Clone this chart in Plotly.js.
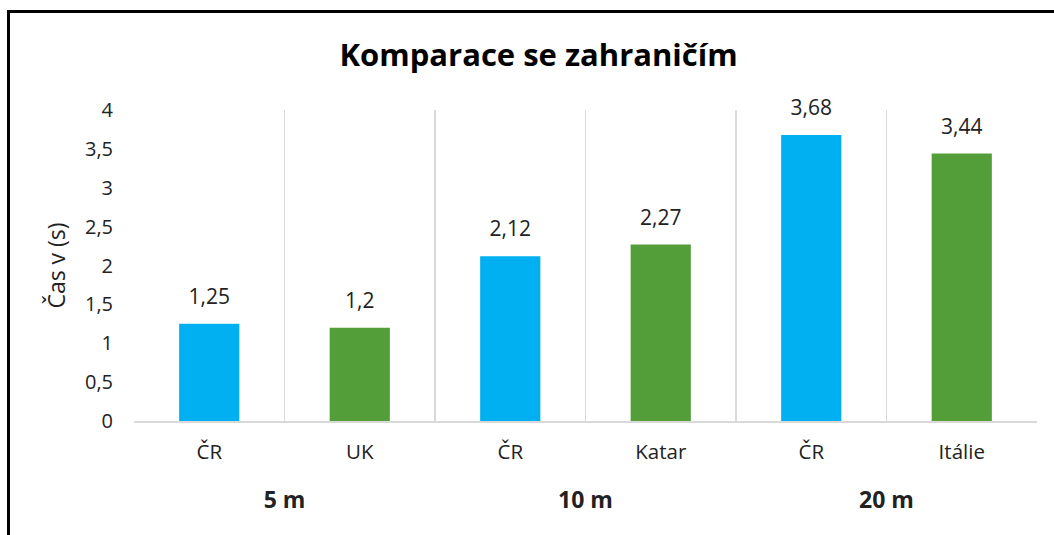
<!DOCTYPE html>
<html>
<head>
<meta charset="utf-8">
<script src="https://cdn.plot.ly/plotly-3.0.1.min.js"></script>
<style>
html, body { margin: 0; padding: 0; overflow: hidden; background: #fff; }
#wrap { position: relative; width: 1054px; height: 535px; overflow: hidden; }
#chart { width: 1054px; height: 535px; }
#frame { position: absolute; left: 7px; top: 10px; width: 1100px; height: 600px; border: 3px solid #000; pointer-events: none; }
</style>
</head>
<body>
<div id="wrap">
  <div id="chart"></div>
  <div id="frame"></div>
</div>
<script>
// Data
const distances = ["5 m", "5 m", "10 m", "10 m", "20 m", "20 m"];
const countries = ["ČR", "UK", "ČR", "Katar", "ČR", "Itálie"];
const times = [1.25, 1.2, 2.12, 2.27, 3.68, 3.44];
const yTicks = [0, 0.5, 1, 1.5, 2, 2.5, 3, 3.5, 4];

const BLUE = "#00B0F0";
const GREEN = "#549E39";
const FONT = "Open Sans, Lato, Liberation Sans, sans-serif";

// outer (group) labels: pushed one line lower and bold; inner labels: normal size
const xCats = [
  distances.map(d => "<br><span style=\"font-size:23px\"><b>" + d + "</b></span>"),
  countries.map(c => "<span style=\"font-size:20.5px\">" + c + "</span>")
];
const barColors = countries.map(c => c === "ČR" ? BLUE : GREEN);
const labels = times.map(v => String(v).replace(".", ","));

const bars = {
  type: "bar",
  x: xCats,
  y: times,
  width: 0.4,
  marker: { color: barColors },
  hoverinfo: "skip",
  showlegend: false
};

const dataLabels = {
  type: "scatter",
  mode: "markers+text",
  x: xCats,
  y: times,
  text: labels,
  textposition: "top center",
  textfont: { family: FONT, size: 21, color: "#222" },
  marker: { size: 21.5, opacity: 0 },
  cliponaxis: false,
  hoverinfo: "skip",
  showlegend: false
};

const layout = {
  width: 1054,
  height: 535,
  margin: { l: 134, r: 17, t: 110, b: 114, pad: 0 },
  paper_bgcolor: "#ffffff",
  plot_bgcolor: "#ffffff",
  separators: ", ",
  font: { family: FONT, size: 20, color: "#222" },
  title: {
    text: "<b>Komparace se zahraničím</b>",
    font: { family: FONT, size: 31, color: "#000" },
    xref: "container", x: 0.511, xanchor: "center",
    yref: "container", y: 0.897, yanchor: "middle"
  },
  xaxis: {
    type: "multicategory",
    tickson: "boundaries",
    showgrid: true,
    gridcolor: "#d9d9d9",
    gridwidth: 1.5,
    showline: true,
    linecolor: "#d9d9d9",
    linewidth: 1.5,
    showdividers: false,
    ticks: "",
    ticklabelstandoff: 10,
    tickfont: { family: FONT, size: 22, color: "#222" },
    zeroline: false,
    fixedrange: true
  },
  yaxis: {
    range: [0, 4],
    tickmode: "array",
    tickvals: yTicks,
    showgrid: false,
    zeroline: false,
    showline: false,
    ticks: "",
    ticklabelstandoff: 20,
    tickfont: { family: FONT, size: 20, color: "#222" },
    title: { text: "Čas v (s)", font: { family: FONT, size: 23, color: "#222" }, standoff: 12 },
    fixedrange: true
  }
};

Plotly.newPlot("chart", [bars, dataLabels], layout, { displayModeBar: false, staticPlot: true });
</script>
</body>
</html>
